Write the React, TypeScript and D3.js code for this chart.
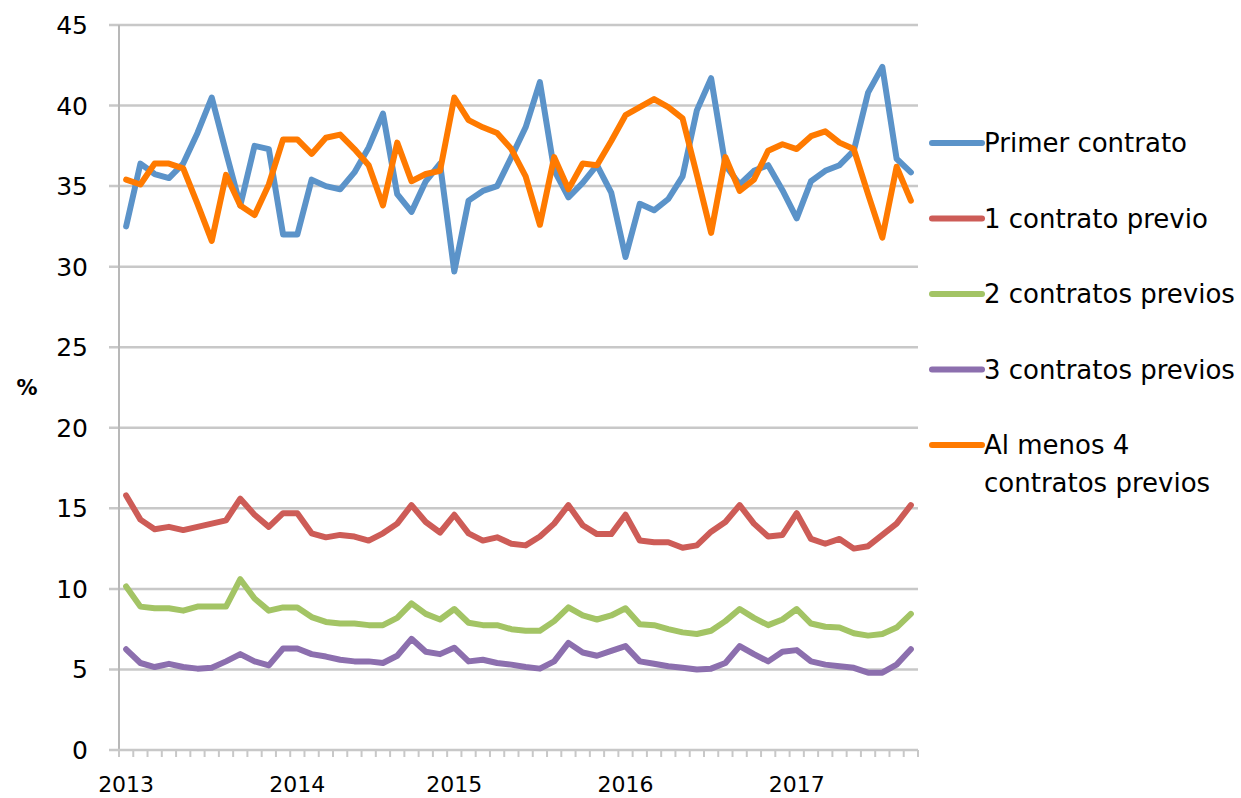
import React from "react";
import * as d3 from "d3";

const categories: string[] = Array.from({ length: 56 }, () => "");
const yearLabels = [
  { idx: 0, label: "2013" },
  { idx: 12, label: "2014" },
  { idx: 23, label: "2015" },
  { idx: 35, label: "2016" },
  { idx: 47, label: "2017" },
];
yearLabels.forEach((y) => (categories[y.idx] = y.label));

const primerContrato = [32.5, 36.4, 35.75, 35.5, 36.4, 38.3, 40.5, 37.1, 33.8, 37.5, 37.3, 32.0, 32.0, 35.4, 35.0, 34.8, 35.85, 37.4, 39.5, 34.5, 33.4, 35.3, 36.4, 29.7, 34.1, 34.7, 35.0, 36.8, 38.65, 41.45, 36.0, 34.3, 35.2, 36.3, 34.6, 30.6, 33.9, 33.5, 34.2, 35.6, 39.7, 41.7, 36.3, 35.1, 35.95, 36.3, 34.75, 33.0, 35.3, 35.95, 36.3, 37.2, 40.8, 42.4, 36.7, 35.85];
const unoPrevio = [15.8, 14.3, 13.7, 13.85, 13.65, 13.85, 14.05, 14.25, 15.6, 14.6, 13.85, 14.7, 14.7, 13.45, 13.2, 13.35, 13.25, 13.0, 13.45, 14.05, 15.2, 14.15, 13.5, 14.6, 13.45, 13.0, 13.2, 12.8, 12.7, 13.25, 14.05, 15.2, 13.95, 13.4, 13.4, 14.6, 13.0, 12.9, 12.9, 12.55, 12.7, 13.55, 14.15, 15.2, 14.05, 13.25, 13.35, 14.7, 13.1, 12.8, 13.1, 12.5, 12.65, 13.35, 14.05, 15.2];
const dosPrevios = [10.15, 8.9, 8.8, 8.8, 8.65, 8.9, 8.9, 8.9, 10.6, 9.4, 8.65, 8.85, 8.85, 8.25, 7.95, 7.85, 7.85, 7.75, 7.75, 8.2, 9.1, 8.45, 8.1, 8.75, 7.9, 7.75, 7.75, 7.5, 7.4, 7.4, 8.0, 8.85, 8.35, 8.1, 8.35, 8.8, 7.8, 7.75, 7.5, 7.3, 7.2, 7.4, 8.0, 8.75, 8.2, 7.75, 8.1, 8.75, 7.85, 7.65, 7.6, 7.25, 7.1, 7.2, 7.6, 8.45];
const tresPrevios = [6.25, 5.4, 5.15, 5.35, 5.15, 5.05, 5.1, 5.5, 5.95, 5.5, 5.25, 6.3, 6.3, 5.95, 5.8, 5.6, 5.5, 5.5, 5.4, 5.85, 6.9, 6.1, 5.95, 6.35, 5.5, 5.6, 5.4, 5.3, 5.15, 5.05, 5.5, 6.65, 6.05, 5.85, 6.15, 6.45, 5.5, 5.35, 5.2, 5.1, 5.0, 5.05, 5.4, 6.45, 5.95, 5.5, 6.1, 6.2, 5.5, 5.3, 5.2, 5.1, 4.8, 4.8, 5.3, 6.25];
const alMenos4 = [35.4, 35.1, 36.4, 36.4, 36.1, 33.9, 31.6, 35.7, 33.8, 33.2, 35.1, 37.9, 37.9, 37.0, 38.0, 38.2, 37.3, 36.3, 33.8, 37.7, 35.3, 35.75, 35.95, 40.5, 39.1, 38.65, 38.3, 37.3, 35.6, 32.6, 36.8, 34.8, 36.4, 36.3, 37.8, 39.4, 39.9, 40.4, 39.9, 39.2, 35.7, 32.1, 36.8, 34.7, 35.4, 37.2, 37.6, 37.3, 38.1, 38.4, 37.7, 37.3, 34.5, 31.8, 36.2, 34.1];

const seriesNames = ["Primer contrato", "1 contrato previo", "2 contratos previos", "3 contratos previos", "Al menos 4|contratos previos"];
const seriesValues = [primerContrato, unoPrevio, dosPrevios, tresPrevios, alMenos4];
const seriesColors = ["#5B93C9", "#CD5C57", "#A3C465", "#8C6FAE", "#FF7A00"];
const yTicks = [0, 5, 10, 15, 20, 25, 30, 35, 40, 45];

const FONT = "'DejaVu Sans', sans-serif";

export default function App() {
  const W = 1241, H = 798;
  const left = 119, right = 918, top = 25, bottom = 750;
  const x = d3.scaleBand<number>().domain(categories.map((_, i) => i)).range([left, right]).padding(0);
  const cx = (i: number) => (x(i) as number) + x.bandwidth() / 2;
  const y = d3.scaleLinear().domain([0, 45]).range([bottom, top]);
  const line = d3.line<number>().x((_, i) => cx(i)).y((d) => y(d));
  const boundaries = d3.range(categories.length + 1).map((i) => left + i * x.bandwidth());
  const legendX = 932;
  const legendY = d3.scaleLinear().domain([0, 4]).range([143, 445]);

  return (
    <svg width={W} height={H} style={{ position: "absolute", left: 0, top: 0, background: "#fff" }} fontFamily={FONT}>
      {yTicks.map((t) => (
        <g key={t}>
          {t > 0 && <line x1={left - 10} x2={right} y1={y(t)} y2={y(t)} stroke="#c8c8c8" strokeWidth={2.5} />}
          <text x={88} y={y(t)} dy="0.36em" textAnchor="end" fontSize={25} fill="#000">{t}</text>
        </g>
      ))}
      <line x1={left} x2={left} y1={top} y2={bottom} stroke="#b8b8b8" strokeWidth={2} />
      {boundaries.map((bx, i) => (
        <line key={i} x1={bx} x2={bx} y1={bottom} y2={bottom + 7} stroke="#c8c8c8" strokeWidth={2} />
      ))}
      <line x1={left - 10} x2={right} y1={bottom} y2={bottom} stroke="#c8c8c8" strokeWidth={2.5} />
      {categories.map((c, i) => c ? (
        <text key={i} x={cx(i)} y={784} dy="0.36em" textAnchor="middle" fontSize={22} fill="#000">{c}</text>
      ) : null)}
      <text x={27} y={387} dy="0.36em" textAnchor="middle" fontSize={21} fontWeight="bold" fill="#000">%</text>
      {seriesValues.map((vals, s) => (
        <path key={s} d={line(vals) || ""} fill="none" stroke={seriesColors[s]} strokeWidth={6} strokeLinejoin="round" strokeLinecap="round" />
      ))}
      {seriesNames.map((n, s) => {
        const ly = legendY(s);
        const parts = n.split("|");
        return (
          <g key={n}>
            <line x1={legendX} x2={legendX + 50} y1={ly} y2={ly} stroke={seriesColors[s]} strokeWidth={6} strokeLinecap="round" />
            {parts.map((p, k) => (
              <text key={k} x={legendX + 52} y={ly + k * 38} dy="0.36em" fontSize={26} fill="#000">{p}</text>
            ))}
          </g>
        );
      })}
    </svg>
  );
}
